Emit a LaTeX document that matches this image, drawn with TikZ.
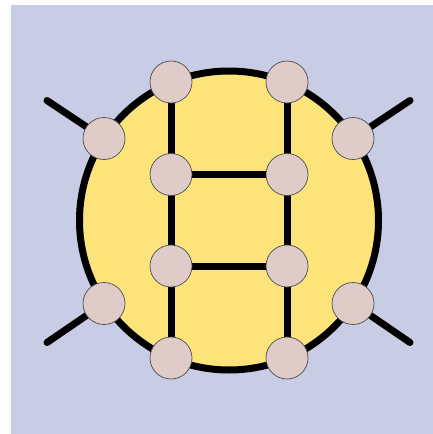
\documentclass[tikz,border=0pt]{standalone}
\usetikzlibrary{backgrounds}
\begin{document}
\begin{tikzpicture}[x=1pt,y=-1pt,
  bead/.style={circle,draw=black!70,line width=0.7pt,fill=beadc,minimum size=42pt,inner sep=0pt},
  bond/.style={line width=7pt,line cap=round}]
\definecolor{bgc}{HTML}{C8CCE4}
\definecolor{yel}{HTML}{FDE47A}
\definecolor{beadc}{HTML}{DFCBC8}
\useasboundingbox (0,0) rectangle (433,434);
\node[bead] (t1) at (171,82) {};
\node[bead] (t2) at (287,82) {};
\node[bead] (s1) at (104,138.5) {};
\node[bead] (s2) at (353,138.5) {};
\node[bead] (m1) at (171,174.5) {};
\node[bead] (m2) at (287,174.5) {};
\node[bead] (n1) at (171,266) {};
\node[bead] (n2) at (287,266) {};
\node[bead] (s3) at (104,303.5) {};
\node[bead] (s4) at (353,303.5) {};
\node[bead] (b1) at (171,358) {};
\node[bead] (b2) at (287,358) {};
\coordinate (e1) at (47,100.5);
\coordinate (e2) at (410,100.5);
\coordinate (e3) at (47,342.5);
\coordinate (e4) at (410,342.5);
\begin{scope}[on background layer]
\fill[bgc] (11,5) rectangle (433,434);
\draw[line width=7pt,fill=yel] (229,220.5) circle (149.5);
\draw[bond] (t1.center) -- (m1.center) -- (n1.center) -- (b1.center);
\draw[bond] (t2.center) -- (m2.center) -- (n2.center) -- (b2.center);
\draw[bond] (m1) -- (m2);
\draw[bond] (n1) -- (n2);
\draw[bond] (e1) -- (s1);
\draw[bond] (e2) -- (s2);
\draw[bond] (e3) -- (s3);
\draw[bond] (e4) -- (s4);
\end{scope}
\end{tikzpicture}
\end{document}
